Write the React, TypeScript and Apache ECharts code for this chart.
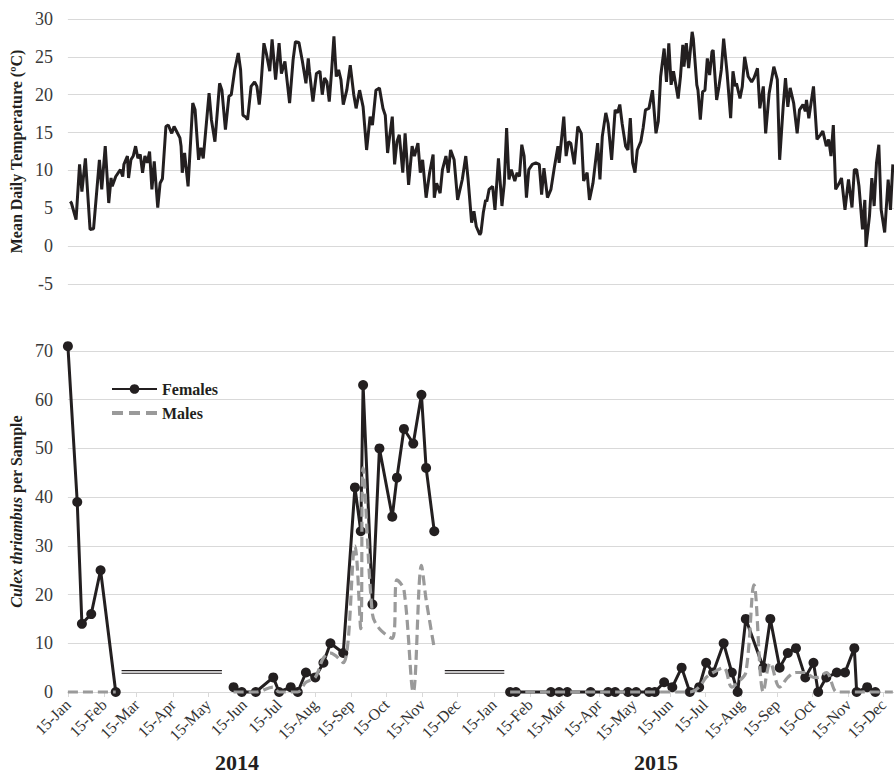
import React, { useEffect, useRef } from "react";
import * as echarts from "echarts";

// Day offsets are counted from 15 Jan 2014 (day 0).
const monthNames = ["Jan", "Feb", "Mar", "Apr", "May", "Jun", "Jul", "Aug", "Sep", "Oct", "Nov", "Dec"];
const tickYears = [2014, 2015];
const yearLabels = ["2014", "2015"];

// Mean daily temperature (local highs/lows)
const tempDays = [
  2, 3, 7, 10, 12, 15, 19, 22, 27, 29, 32, 35, 37, 38, 41, 45, 47, 48, 51, 52, 54, 56, 58, 60, 62, 64, 66, 68, 70, 72, 74, 77, 79, 81, 84, 86, 89, 91, 93, 96, 97, 98, 100, 103, 107, 109, 112, 114, 116, 121, 123, 126, 130, 132, 135, 138, 140, 143, 146, 148, 150, 152, 154, 157, 160, 162, 164, 165, 168, 170,
  173, 175, 178, 181, 183, 186, 190, 193, 195, 198, 201, 204, 206, 207, 210, 213, 216, 218, 220, 222, 224, 226, 228, 230, 232, 234, 236, 239, 242, 245, 247, 250, 253, 256, 259, 261, 264, 267, 270, 272, 274, 275, 278, 280, 282, 284, 287, 289, 292, 295, 297, 300, 302, 304, 307, 310, 313, 314, 316, 319, 321, 324, 326, 328, 331, 334, 338, 341, 343,
  346, 348, 350, 353, 354, 356, 358, 359, 361, 364, 366, 369, 372, 374, 376, 378, 380, 383, 385, 387, 389, 391, 393, 395, 398, 401, 404, 406, 408, 411, 414, 417, 420, 421, 425, 427, 429, 431, 434, 437, 440, 442, 445, 447, 450, 454, 456, 458, 461, 463, 466, 469, 471, 473, 475, 478, 480, 482, 484, 486, 488, 491, 493, 495, 498, 501, 504, 506, 508, 511, 513, 515, 517, 519, 521, 523, 525,
  527, 528, 530, 532, 535, 536, 539, 540, 542, 544, 546, 548, 550, 552, 553, 556, 558, 560, 562, 565, 568, 570, 572, 573, 576, 578, 580, 583, 586, 588, 591, 593, 596, 598, 601, 605, 608, 610, 613, 615, 617, 619, 622, 625, 627, 630, 632, 633, 635, 639, 642, 645, 647, 650, 652, 654, 656, 658, 661, 663, 666, 669, 672, 674, 676, 678, 681, 683, 684, 687, 689, 691, 693, 695, 697, 700, 703, 705, 707,
];
const tempValues = [
  5.9, 5.7, 3.5, 10.8, 7.2, 11.6, 2.2, 2.3, 11.4, 7.5, 13.2, 5.7, 9.0, 7.9, 9.2, 10.1, 9.2, 10.8, 11.9, 9.0, 11.4, 11.9, 13.2, 11.6, 12.1, 9.7, 11.9, 11.0, 12.5, 7.5, 11.2, 5.1, 8.3, 8.9, 15.8, 16.0, 14.9, 15.8, 15.2, 14.3, 13.2, 9.7, 12.3, 7.9, 18.9, 18.0, 11.4, 13.0, 11.6, 20.2, 16.7, 13.8, 21.5, 20.6, 15.4, 19.8, 20.0, 23.3, 25.5, 23.3, 17.3, 17.1, 16.7, 21.1, 21.7, 21.1, 18.7, 20.2, 26.8, 25.5,
  23.1, 27.3, 22.0, 26.8, 22.8, 24.4, 18.9, 24.6, 27.0, 26.9, 24.4, 21.5, 24.8, 23.1, 19.1, 22.8, 23.1, 20.0, 22.2, 21.7, 19.1, 23.1, 27.7, 22.4, 23.3, 22.0, 18.7, 20.6, 23.9, 20.0, 18.2, 20.6, 18.4, 12.7, 17.1, 16.0, 20.6, 20.9, 18.2, 17.3, 12.3, 13.6, 17.1, 10.8, 13.8, 14.7, 9.7, 14.9, 8.1, 13.2, 11.9, 13.6, 9.7, 11.4, 6.4, 9.7, 12.1, 6.4, 8.3, 7.0, 10.1, 11.9, 9.7, 12.7, 11.4, 6.1, 8.8, 11.9, 8.8,
  3.1, 4.6, 2.6, 1.5, 1.8, 4.4, 6.1, 5.9, 7.5, 7.9, 4.8, 11.6, 5.3, 8.3, 15.6, 8.8, 10.1, 8.6, 9.7, 9.2, 13.4, 11.9, 6.4, 10.1, 10.8, 11.0, 10.8, 6.8, 10.3, 6.4, 7.5, 10.5, 13.2, 11.0, 17.1, 11.9, 13.8, 13.6, 10.8, 15.8, 14.9, 8.6, 9.7, 6.1, 8.3, 13.6, 8.8, 14.5, 17.6, 16.2, 11.4, 18.0, 17.6, 18.7, 16.2, 13.2, 12.7, 16.9, 11.0, 9.7, 12.7, 13.8, 15.6, 18.0, 18.2, 20.6, 14.9, 16.5, 22.4, 26.1, 21.7, 26.8, 21.3, 23.1, 21.3, 19.5, 22.4,
  26.6, 23.7, 26.8, 23.5, 28.3, 27.4, 21.3, 20.6, 16.7, 20.4, 20.6, 24.8, 22.6, 25.7, 25.9, 19.3, 21.1, 23.3, 27.4, 22.8, 16.9, 23.1, 21.1, 21.5, 19.5, 21.1, 25.0, 22.4, 21.7, 22.2, 23.5, 18.2, 21.1, 14.9, 20.2, 23.7, 22.0, 11.4, 18.4, 22.2, 18.4, 20.9, 18.9, 14.9, 18.0, 18.7, 17.8, 19.3, 16.9, 21.1, 14.1, 14.7, 15.2, 13.2, 14.1, 11.9, 16.0, 7.5, 8.3, 9.0, 4.8, 8.8, 5.1, 10.1, 10.1, 7.9, 2.2, 6.1, -0.1, 4.0, 9.0, 5.3, 11.0, 13.4, 4.8, 1.8, 8.8, 4.8, 10.8,
];

// Culex thriambus per sample
const sampleDays2014a = [0, 8, 12, 20, 28, 41];
const females2014a = [71, 39, 14, 16, 25, 0];
const males2014a = [0, 0, 0, 0, 0, 0];

const sampleDays2014b = [142, 149, 161, 176, 181, 191, 197, 204, 212, 219, 225, 236, 246, 251, 253, 261, 267, 278, 282, 288, 296, 303, 307, 314];
const females2014b = [1, 0, 0, 3, 0, 1, 0, 4, 3, 6, 10, 8, 42, 33, 63, 18, 50, 36, 44, 54, 51, 61, 46, 33];
const males2014b = [0, 0, 0, 1, 0, 0, 0, 2, 3, 7, 8, 6, 30, 13, 46, 16, 13, 11, 23, 21, 0, 26, 19, 9];

const femaleDays2015 = [379, 384, 414, 421, 428, 448, 463, 469, 480, 487, 498, 503, 511, 518, 526, 533, 541, 547, 553, 562, 569, 574, 581, 596, 602, 610, 617, 624, 632, 639, 643, 650, 659, 666, 674, 676, 685, 692];
const females2015 = [0, 0, 0, 0, 0, 0, 0, 0, 0, 0, 0, 0, 2, 1, 5, 0, 1, 6, 4, 10, 4, 0, 15, 5, 15, 5, 8, 9, 3, 6, 0, 3, 4, 4, 9, 0, 1, 0];
const maleDays2015 = [379, 384, 414, 421, 428, 448, 463, 469, 480, 487, 498, 503, 511, 518, 526, 533, 541, 547, 553, 562, 569, 574, 581, 588, 596, 602, 610, 617, 624, 632, 639, 643, 650, 659, 666, 674, 676, 685, 692, 707];
const males2015 = [0, 0, 0, 0, 0, 0, 0, 0, 0, 0, 0, 0, 0, 0, 0, 0, 1, 3, 4, 5, 1, 2, 4, 22, 0, 6, 1, 3, 4, 4, 3, 3, 4, 0, 0, 0, 0, 0, 0, 0];

// Periods with no sampling (double lines)
const gapStartDays = [46, 323];
const gapEndDays = [132, 374];
const gapLevels = [4.4, 3.85];

const FONT = "Liberation Serif";
const INK = "#231f20";
const MALE = "#9a9a9a";

function joinPeriods(periods: Array<[number[], number[]]>) {
  const out: any[] = [];
  periods.forEach(([days, vals], p) => {
    if (p > 0) out.push([days[0] - 1, null]);
    days.forEach((d, i) => out.push([d, vals[i]]));
  });
  return out;
}

export default function App() {
  const ref = useRef<HTMLDivElement>(null);
  useEffect(() => {
    if (!ref.current) return;
    const chart = echarts.init(ref.current, null, { renderer: "svg" });
    const DAY = 86400000;
    const t0 = Date.UTC(2014, 0, 15);
    const tickDays: number[] = [];
    const tickLabel: Record<number, string> = {};
    tickYears.forEach((y) => {
      monthNames.forEach((m, mi) => {
        const d = Math.round((Date.UTC(y, mi, 15) - t0) / DAY);
        tickDays.push(d);
        tickLabel[d] = "15-" + m;
      });
    });

    const femaleData = joinPeriods([
      [sampleDays2014a, females2014a],
      [sampleDays2014b, females2014b],
      [femaleDays2015, females2015],
    ]);
    const maleData = joinPeriods([
      [sampleDays2014a, males2014a],
      [sampleDays2014b, males2014b],
      [maleDays2015, males2015],
    ]);
    const gapSeries = gapLevels.map((lvl, k) => ({
      type: "line",
      name: "gap" + k,
      xAxisIndex: 1,
      yAxisIndex: 1,
      symbol: "none",
      silent: true,
      lineStyle: { color: INK, width: 1.2 },
      data: joinPeriods(gapStartDays.map((s, i) => [[s, gapEndDays[i]], [lvl, lvl]] as [number[], number[]])),
      z: 1,
    }));

    const yLabel = { color: "#3a3a3a", fontSize: 18, fontFamily: FONT, margin: 15 };
    const split = { show: true, lineStyle: { color: "#d9d9d9", width: 1 } };

    chart.setOption({
      animation: false,
      backgroundColor: "#fff",
      textStyle: { fontFamily: FONT },
      grid: [
        { left: 66, right: 0, top: 19, height: 265 },
        { left: 66, right: 0, top: 351, height: 341 },
      ],
      xAxis: [
        { type: "value", gridIndex: 0, min: 0, max: 708, show: false, splitLine: { show: false } },
        {
          type: "value",
          gridIndex: 1,
          min: 0,
          max: 708,
          splitLine: { show: false },
          axisLine: { show: true, lineStyle: { color: "#d9d9d9", width: 1 } },
          axisTick: { show: true, customValues: tickDays, length: 5, lineStyle: { color: "#d9d9d9" } },
          axisLabel: {
            customValues: tickDays,
            rotate: 45,
            margin: 10,
            color: "#333",
            fontSize: 16,
            fontFamily: FONT,
            formatter: (v: number) => tickLabel[Math.round(v)] || "",
          },
        },
      ],
      yAxis: [
        {
          type: "value",
          gridIndex: 0,
          min: -5,
          max: 30,
          interval: 5,
          axisLine: { show: false },
          axisTick: { show: false },
          axisLabel: yLabel,
          splitLine: split,
          name: "Mean Daily Temperature (ºC)",
          nameLocation: "middle",
          nameGap: 43,
          nameTextStyle: { fontWeight: "bold", fontSize: 16, color: INK, fontFamily: FONT },
        },
        {
          type: "value",
          gridIndex: 1,
          min: 0,
          max: 70,
          interval: 10,
          axisLine: { show: false },
          axisTick: { show: false },
          axisLabel: yLabel,
          splitLine: split,
          name: "{i|Culex thriambus} {b|per Sample}",
          nameLocation: "middle",
          nameGap: 40,
          nameTextStyle: {
            fontWeight: "bold",
            fontSize: 16,
            color: INK,
            fontFamily: FONT,
            padding: [0, 0, 0, 20],
            rich: {
              i: { fontStyle: "italic", fontWeight: "bold", fontSize: 16, color: INK, fontFamily: FONT },
              b: { fontWeight: "bold", fontSize: 16, color: INK, fontFamily: FONT },
            },
          },
        },
      ],
      legend: {
        data: [
          { name: "Females" },
          { name: "Males", icon: "path://M0,0h11v4h-11z M17,0h11v4h-11z M34,0h11v4h-11z" },
        ],
        orient: "vertical",
        left: 106,
        top: 376,
        itemWidth: 45,
        itemHeight: 12,
        itemGap: 8,
        textStyle: { fontWeight: "bold", fontSize: 16, color: INK, fontFamily: FONT },
      },
      graphic: yearLabels.map((t, i) => ({
        type: "text",
        x: i === 0 ? 237 : 656,
        y: 762,
        style: { text: t, fill: INK, font: "bold 22px " + FONT, textAlign: "center", textVerticalAlign: "middle" },
      })),
      series: [
        {
          type: "line",
          name: "Temperature",
          xAxisIndex: 0,
          yAxisIndex: 0,
          symbol: "none",
          lineStyle: { color: INK, width: 3 },
          data: tempDays.map((d, i) => [d, tempValues[i]]),
        },
        {
          type: "line",
          name: "Females",
          xAxisIndex: 1,
          yAxisIndex: 1,
          symbol: "circle",
          symbolSize: 10,
          clip: false,
          itemStyle: { color: INK },
          lineStyle: { color: INK, width: 3 },
          data: femaleData,
          z: 3,
        },
        {
          type: "line",
          name: "Males",
          xAxisIndex: 1,
          yAxisIndex: 1,
          symbol: "none",
          smooth: 0.35,
          clip: false,
          itemStyle: { color: MALE },
          lineStyle: { color: MALE, width: 3.2, type: [10, 5] },
          data: maleData,
          z: 4,
        },
        ...gapSeries,
      ],
    });
    return () => chart.dispose();
  }, []);
  return <div ref={ref} style={{ position: "fixed", left: 0, top: 0, width: 894, height: 775, background: "#fff" }} />;
}
